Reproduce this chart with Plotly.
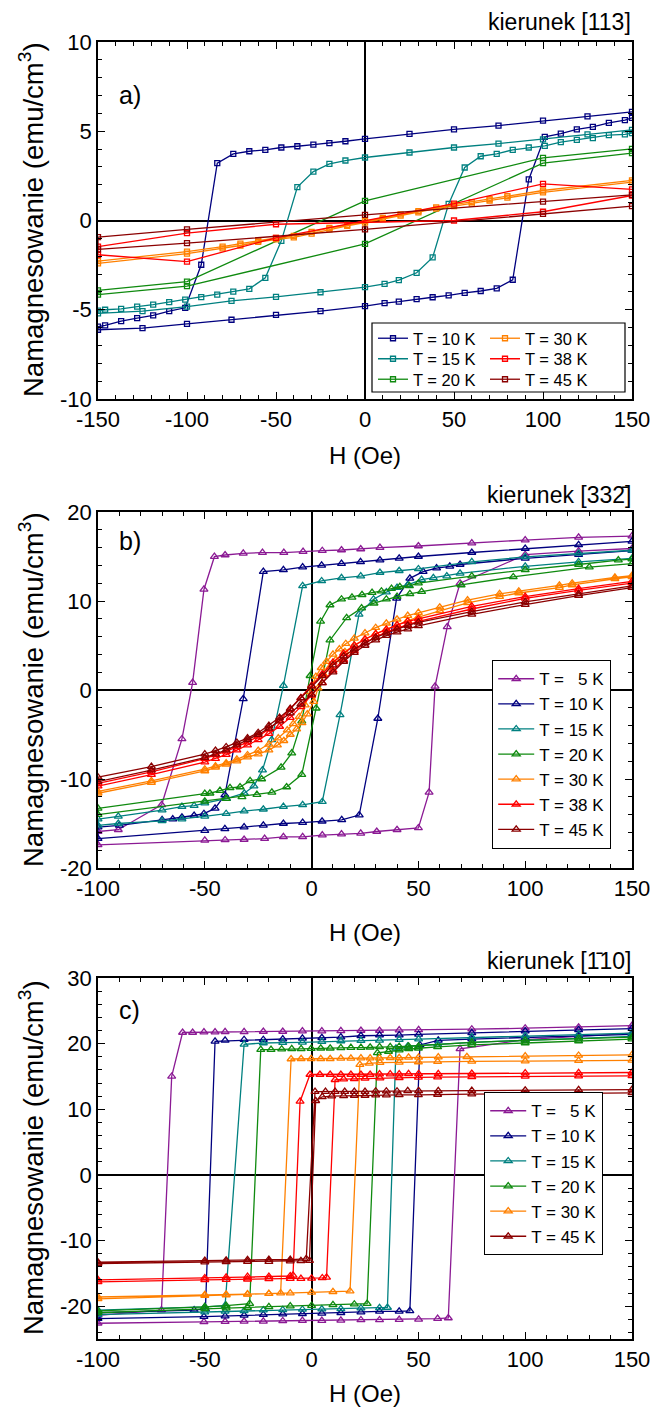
import plotly.graph_objects as go

W, H = 659, 1411

# ---------------- Panel a) data (kierunek [113]) ----------------
a10_Hd = [150,125,100,75,50,25,0,-11,-20,-29,-38,-47,-56,-65,-74,-83,-92,-101,-110,-119,-128,-137,-146,-150]
a10_Md = [6.09,5.83,5.6,5.32,5.1,4.85,4.57,4.44,4.33,4.25,4.16,4.09,3.96,3.88,3.73,3.21,-2.48,-4.89,-5.08,-5.32,-5.47,-5.64,-5.88,-5.95]
a10_Hu = [-150,-125,-100,-75,-50,-25,0,11,19,29,38,47,56,65,74,83,92,101,110,119,128,137,146,150]
a10_Mu = [-6.12,-6.03,-5.79,-5.56,-5.29,-5.08,-4.8,-4.63,-4.55,-4.4,-4.3,-4.2,-4.05,-3.95,-3.8,-3.32,2.3,4.69,4.87,5.1,5.25,5.47,5.62,5.75]

a15_Hd = [150,125,100,75,50,25,0,-11,-20,-29,-38,-47,-56,-65,-74,-83,-92,-101,-110,-119,-128,-137,-146,-150]
a15_Md = [5.08,4.82,4.55,4.31,4.09,3.81,3.53,3.36,3.17,2.74,1.87,-1.14,-3.21,-3.83,-3.98,-4.15,-4.29,-4.43,-4.57,-4.71,-4.82,-4.95,-5.0,-5.05]
a15_Hu = [-150,-125,-100,-75,-50,-25,0,11,19,29,38,47,56,65,74,83,92,101,110,119,128,137,146,150]
a15_Mu = [-5.2,-5.08,-4.82,-4.5,-4.28,-4.02,-3.73,-3.55,-3.34,-2.93,-2.07,0.93,2.97,3.6,3.73,3.96,4.09,4.18,4.39,4.52,4.61,4.78,4.83,4.9]

a20_Hd = [150,100,0,-100,-150]
a20_Md = [4.01,3.51,1.1,-3.42,-3.92]
a20_Hu = [-150,-100,0,100,150]
a20_Mu = [-4.15,-3.68,-1.31,3.21,3.77]

a30_Hd = [150,100,80,70,60,50,40,30,20,10,0,-10,-20,-30,-40,-50,-60,-70,-80,-100,-150]
a30_Md = [2.25,1.68,1.36,1.2,1.03,0.88,0.74,0.52,0.34,0.15,-0.04,-0.24,-0.42,-0.64,-0.86,-0.98,-1.12,-1.3,-1.46,-1.74,-2.28]
a30_Hu = [-150,-100,-80,-70,-60,-50,-40,-30,-20,-10,0,10,20,30,40,50,60,70,80,100,150]
a30_Mu = [-2.4,-1.86,-1.56,-1.4,-1.2,-1.06,-0.94,-0.74,-0.5,-0.3,-0.12,0.08,0.27,0.45,0.66,0.8,0.95,1.12,1.28,1.58,2.15]

a38_Hd = [150,100,50,-50,-100,-150]
a38_Md = [1.74,2.05,0.95,-0.97,-2.3,-1.92]
a38_Hu = [-150,-100,-50,50,100,150]
a38_Mu = [-1.46,-0.71,-0.21,0.0,0.49,1.4]

a45_Hd = [150,100,0,-100,-150]
a45_Md = [1.44,1.06,0.32,-0.5,-0.93]
a45_Hu = [-150,-100,0,100,150]
a45_Mu = [-1.62,-1.27,-0.5,0.37,0.8]

# ---------------- Panel b) data (kierunek [33-2]) ----------------
b5_Hd = [150,125,100,75,50,32,23,14,5,-4,-13,-23,-32,-40.5,-45.5,-50.4,-55.7,-60.7,-70.2,-90.5,-100]
b5_Md = [17.3,17.15,16.85,16.5,16.18,15.99,15.84,15.73,15.65,15.54,15.43,15.43,15.36,15.17,14.98,11.3,0.83,-5.5,-12.9,-15.7,-15.9]
b5_Hu = [-100,-50,-40.5,-31.6,-22,-13.2,-4.2,5,14,23,30.5,40,50,55,57.8,63.5,69.5,100,125,150]
b5_Mu = [-17.4,-16.9,-16.85,-16.8,-16.7,-16.5,-16.5,-16.3,-16.2,-16.1,-15.9,-15.7,-15.5,-11.5,0.4,7.1,12.0,15.2,15.6,15.9]

b10_Hd = [150,125,100,75,50,41,32,22.9,14,4.7,-4.2,-13.2,-22.6,-32,-40.6,-45.2,-50.4,-55,-60.7,-65,-70,-90,-100]
b10_Md = [16.7,16.3,15.9,15.45,15.0,14.8,14.6,14.4,14.2,14.0,13.8,13.5,13.3,-1.0,-11.8,-13.3,-13.9,-14.1,-14.3,-14.5,-14.6,-15.2,-15.4]
b10_Hu = [-100,-50,-40.6,-31.6,-22.6,-13.2,-4.2,4.9,14.1,22.3,31,39.8,46,52.2,58.5,64.7,69.5,100,125,150]
b10_Mu = [-16.7,-15.8,-15.6,-15.4,-15.2,-15.0,-14.9,-14.75,-14.6,-14.05,-3.2,10.3,12.55,13.3,13.7,13.9,14.1,14.8,15.2,15.65]

b15_Hd = [150,125,100,75,50,41,32,23,14,4.7,-4.2,-13.2,-18.7,-23,-27,-31.5,-39.8,-50,-55,-60.7,-70,-90.5,-100]
b15_Md = [15.7,15.35,14.95,14.4,13.6,13.4,13.2,12.8,12.6,12.25,11.7,0.5,-5.6,-9.0,-10.8,-11.6,-12.2,-12.7,-13.0,-13.1,-13.5,-14.2,-14.5]
b15_Hu = [-100,-90.5,-70,-60.7,-50,-40,-31.6,-22.6,-13.2,-4.2,5,13.3,22.2,29,35,40,45,51.5,57,63.3,69.5,100,125,150]
b15_Mu = [-15.2,-15.0,-14.7,-14.5,-14.2,-13.9,-13.6,-13.4,-13.1,-12.9,-12.55,-2.8,8.5,10.2,11.0,11.5,11.8,12.4,12.6,12.8,13.1,13.9,14.4,14.8]

b20_Hd = [150,143.6,125,100,75,50,45.8,41.3,37.4,32.7,28.3,23.6,18.9,14,8.6,4.2,-0.7,-4.6,-9.3,-14.3,-23.4,-28.8,-33.5,-38.2,-42.9,-47.6,-50,-100]
b20_Md = [14.7,14.6,14.1,13.5,12.8,12.0,11.7,11.6,11.4,11.1,10.95,10.7,10.4,10.2,9.55,7.7,1.6,-3.5,-7.1,-8.7,-10.0,-10.2,-10.9,-11.0,-11.3,-11.6,-11.65,-13.3]
b20_Hu = [-100,-50,-40,-32.6,-25.6,-18.6,-11.7,-4.6,2.1,8.6,16.4,23.4,29.2,35,40,46,51.5,70,94.4,130,150]
b20_Mu = [-14.0,-12.5,-12.2,-12.0,-11.75,-11.5,-10.9,-9.5,-2.05,5.6,8.1,9.2,9.75,10.2,10.5,10.8,11.05,11.8,12.7,13.8,14.2]

b30_Hd = [150,142,122,116,97,88,73,60,50,45,40,35,30,25,20,16,13,10,7,4.5,2,-1,-3,-5.8,-8.6,-11.4,-15.6,-20,-25,-30,-35,-40,-45,-50,-75,-100]
b30_Md = [12.85,12.65,12.0,11.75,11.1,10.8,10.1,9.3,8.7,8.35,7.95,7.5,7.0,6.4,5.8,5.2,4.6,4.0,3.2,2.5,1.5,-0.2,-1.7,-3.0,-3.8,-4.5,-5.4,-6.1,-6.8,-7.3,-7.8,-8.2,-8.55,-8.9,-10.2,-11.4]
b30_Hu = [-100,-75,-50,-45,-40,-35,-30,-25,-20,-16,-13,-10,-7,-4.5,-2,1,3,5.8,8.6,11.4,15.6,20,25,30,35,40,45,50,60,73,88,97,116,122,142,150]
b30_Mu = [-11.6,-10.4,-9.1,-8.7,-8.35,-8.0,-7.55,-7.2,-6.75,-6.2,-5.7,-5.0,-4.4,-3.7,-2.7,-1.3,0.2,1.7,2.6,3.4,4.3,5.05,5.7,6.3,6.8,7.3,7.8,8.2,8.9,9.8,10.5,10.9,11.5,11.8,12.5,12.7]

b38_Hd = [150,125,100,75,50,45,40,35,30,25,20,15,10,5,0,-5,-10,-15,-20,-25,-30,-35,-40,-45,-50,-75,-100]
b38_Md = [12.2,11.4,10.5,9.4,8.0,7.7,7.3,6.8,6.3,5.7,5.0,4.1,3.1,1.8,0.5,-0.9,-2.2,-3.4,-4.4,-5.2,-5.85,-6.4,-6.9,-7.3,-7.7,-9.2,-10.5]
b38_Hu = [-100,-75,-50,-45,-40,-35,-30,-25,-20,-15,-10,-5,0,5,10,15,20,25,30,35,40,45,50,75,100,125,150]
b38_Mu = [-10.8,-9.5,-8.1,-7.7,-7.25,-6.75,-6.2,-5.6,-4.9,-4.1,-3.1,-1.9,-0.6,0.8,2.2,3.4,4.4,5.3,5.95,6.5,6.95,7.35,7.7,9.1,10.3,11.2,12.0]

b45_Hd = [150,125,100,75,50,45,40,35,30,25,20,15,10,5,0,-5,-10,-15,-20,-25,-30,-35,-40,-45,-50,-75,-100]
b45_Md = [11.7,10.8,9.9,8.8,7.6,7.25,6.85,6.4,5.9,5.3,4.6,3.8,2.8,1.6,0.4,-0.9,-2.1,-3.1,-4.0,-4.8,-5.4,-5.9,-6.4,-6.8,-7.2,-8.6,-9.8]
b45_Hu = [-100,-75,-50,-45,-40,-35,-30,-25,-20,-15,-10,-5,0,5,10,15,20,25,30,35,40,45,50,75,100,125,150]
b45_Mu = [-10.3,-9.0,-7.6,-7.2,-6.75,-6.2,-5.6,-5.0,-4.3,-3.5,-2.6,-1.6,-0.5,0.8,2.0,3.2,4.2,5.0,5.6,6.1,6.5,6.85,7.2,8.5,9.6,10.6,11.5]

# ---------------- Panel c) data (kierunek [-110]) ----------------
c5_Hd = [150,125,100,75,50.1,41,31.8,23.1,13.7,4.8,-4.3,-13.5,-22.6,-31.6,-40.5,-45.2,-50.4,-55.7,-60.4,-65.5,-70.3,-100]
c5_Md = [22.75,22.5,22.35,22.2,22.1,22.05,22.0,22.0,21.95,21.9,21.9,21.85,21.85,21.8,21.8,21.75,21.75,21.7,21.7,15.0,-20.6,-21.4]
c5_Hu = [-100,-50.4,-40.5,-31.6,-22.6,-13.5,-4.3,4.8,13.7,23.1,31.8,41,50.1,59,64,69.5,100,125,150]
c5_Mu = [-22.6,-22.4,-22.35,-22.3,-22.3,-22.25,-22.2,-22.2,-22.15,-22.1,-22.1,-22.05,-22.0,-21.9,-21.8,19.2,20.6,21.1,21.6]

c10_Hd = [150,125,100,75,50.1,41,31.8,23.1,13.7,4.8,-4.3,-13.5,-22.6,-31.6,-40.5,-45.2,-49.7,-55,-100]
c10_Md = [22.3,22.1,21.9,21.65,21.4,21.3,21.3,21.2,21.0,20.9,20.8,20.7,20.6,20.6,20.5,20.35,-20.4,-20.6,-21.0]
c10_Hu = [-100,-50.4,-40.5,-31.6,-22.6,-13.5,-4.3,4.8,13.7,23.1,31.8,41,46,50.7,59.3,75,100,125,150]
c10_Mu = [-21.9,-21.6,-21.5,-21.4,-21.3,-21.2,-21.15,-21.1,-21.0,-20.9,-20.8,-20.8,-20.7,19.8,20.5,20.7,20.9,21.1,21.4]

c15_Hd = [150,125,100,75,50.1,41,31.8,23.1,13.7,4.8,-4.3,-13.5,-22.6,-31.6,-40.5,-50,-100]
c15_Md = [21.6,21.4,21.2,21.0,20.7,20.6,20.5,20.45,20.4,20.3,20.2,20.15,20.1,19.9,-19.9,-20.1,-20.6]
c15_Hu = [-100,-50,-40.5,-31.6,-22.6,-13.5,-4.3,4.8,13.7,23.1,31.8,35.5,39.5,45,59,75,100,125,150]
c15_Mu = [-21.3,-20.9,-20.8,-20.7,-20.6,-20.55,-20.5,-20.45,-20.4,-20.3,-20.25,-20.2,19.3,19.6,19.9,20.2,20.5,20.8,21.1]

c20_Hd = [150,125,100,75,50.1,45.4,41,36.8,31.8,27.4,23.1,18.4,13.7,8.7,4.3,-0.2,-4.9,-9.3,-14,-19,-23.8,-29,-40,-50,-100]
c20_Md = [21.0,20.8,20.5,20.2,19.6,19.6,19.55,19.5,19.5,19.45,19.4,19.4,19.35,19.3,19.3,19.25,19.2,19.2,19.15,19.1,19.1,-19.6,-19.9,-20.1,-20.7]
c20_Hu = [-100,-50,-40,-30,-20,-10,0,10,20,26,30.8,36,41,45.5,50,59,75,100,125,150]
c20_Mu = [-21.0,-20.4,-20.3,-20.2,-20.1,-20.0,-19.9,-19.8,-19.7,-19.6,18.6,18.8,19.0,19.2,19.3,19.5,19.8,20.1,20.4,20.7]

c30_Hd = [150,125,100,72.7,59.3,50.1,45.4,41,36.8,31.8,27.4,23.1,18.4,13.7,8.7,4.3,-0.2,-4.9,-9.6,-14.5,-20,-30,-40,-50,-100]
c30_Md = [18.3,18.2,18.1,18.0,17.95,17.9,17.9,17.85,17.85,17.8,17.8,17.8,17.75,17.75,17.7,17.7,17.7,17.7,17.66,-18.0,-18.1,-18.15,-18.2,-18.25,-18.6]
c30_Hu = [-100,-50,-40,-30,-20,-10,0,10,18,22.6,27,32,41,50,59,75,100,125,150]
c30_Mu = [-18.9,-18.4,-18.3,-18.2,-18.1,-18.0,-17.9,-17.8,-17.7,16.8,17.0,17.1,17.15,17.2,17.25,17.3,17.35,17.4,17.45]

c38_Hd = [150,125,100,75,59.3,50.1,45.4,41,36.8,31.8,27.4,23.1,18.4,13.7,8.7,3.9,-0.75,-5.4,-8.7,-10,-20,-30,-40,-50,-100]
c38_Md = [15.6,15.55,15.5,15.45,15.4,15.4,15.4,15.35,15.35,15.35,15.3,15.3,15.3,15.3,15.3,15.3,15.3,11.2,-15.3,-15.4,-15.5,-15.5,-15.6,-15.7,-16.0]
c38_Hu = [-100,-50,-40,-30,-20,-10,-5,0,5,7,11,15,20,25,32,41,50,59,75,100,125,150]
c38_Mu = [-16.3,-16.0,-15.95,-15.9,-15.85,-15.8,-15.8,-15.75,-15.7,-15.6,14.5,14.6,14.65,14.7,14.75,14.8,14.85,14.9,14.95,15.0,15.05,15.1]

c45_Hd = [150,125,100,75,59.3,50.1,45,40,35,30,25,20,15.5,11,6.5,1.6,-2.5,-10,-20,-30,-40,-50,-100]
c45_Md = [13.0,12.95,12.9,12.85,12.8,12.8,12.8,12.75,12.75,12.75,12.7,12.7,12.7,12.7,12.7,12.7,-12.8,-12.9,-12.9,-12.95,-13.0,-13.05,-13.3]
c45_Hu = [-100,-50,-40,-30,-20,-10,-5,-1,1.9,5,9.4,15,20,25,30,35,41,50,59,75,100,125,150]
c45_Mu = [-13.5,-13.3,-13.25,-13.2,-13.2,-13.15,-13.1,-13.05,11.3,11.9,12.0,12.05,12.1,12.1,12.15,12.15,12.2,12.2,12.25,12.3,12.35,12.4,12.5]

# tick labels
xa_ticks = [-150, -100, -50, 0, 50, 100, 150]
xb_ticks = [-100, -50, 0, 50, 100, 150]
ya_ticks = [-10, -5, 0, 5, 10]
yb_ticks = [-20, -10, 0, 10, 20]
yc_ticks = [-20, -10, 0, 10, 20, 30]

COLORS = {5: "#8B1A94", 10: "#00007F", 15: "#008080", 20: "#0F8A0F",
          30: "#FF8000", 38: "#FF0000", 45: "#8B0000"}

FONT = "Liberation Sans, Arial, sans-serif"

def px_x(x):
    return x / W

def px_y(y):
    return 1 - y / H

fig = go.Figure()

def label(T):
    if T < 10:
        return "T =\u00a0\u00a0\u00a0" + str(T) + " K"
    return "T = " + str(T) + " K"

def add_loop(Hd, Md, Hu, Mu, T, ax, symbol, msize, legend, showlegend, rank):
    fig.add_trace(go.Scatter(
        x=Hd + Hu, y=Md + Mu, mode="lines+markers",
        name=label(T), legend=legend, showlegend=showlegend, legendrank=rank,
        line=dict(color=COLORS[T], width=1.3),
        marker=dict(symbol=symbol, size=msize, color=COLORS[T],
                    line=dict(color=COLORS[T], width=1.3)),
        xaxis="x" + ax, yaxis="y" + ax))

sq = "square-open"
# panel a legend: three rows (legend, legend5, legend6), two columns each
add_loop(a10_Hd, a10_Md, a10_Hu, a10_Mu, 10, "", sq, 5, "legend", True, 1)
add_loop(a15_Hd, a15_Md, a15_Hu, a15_Mu, 15, "", sq, 5, "legend5", True, 1)
add_loop(a20_Hd, a20_Md, a20_Hu, a20_Mu, 20, "", sq, 5, "legend6", True, 1)
add_loop(a30_Hd, a30_Md, a30_Hu, a30_Mu, 30, "", sq, 5, "legend", True, 2)
add_loop(a38_Hd, a38_Md, a38_Hu, a38_Mu, 38, "", sq, 5, "legend5", True, 2)
add_loop(a45_Hd, a45_Md, a45_Hu, a45_Mu, 45, "", sq, 5, "legend6", True, 2)

tri = "triangle-up-open"
add_loop(b5_Hd, b5_Md, b5_Hu, b5_Mu, 5, "2", tri, 7, "legend2", True, 1)
add_loop(b10_Hd, b10_Md, b10_Hu, b10_Mu, 10, "2", tri, 7, "legend2", True, 2)
add_loop(b15_Hd, b15_Md, b15_Hu, b15_Mu, 15, "2", tri, 7, "legend2", True, 3)
add_loop(b20_Hd, b20_Md, b20_Hu, b20_Mu, 20, "2", tri, 7, "legend2", True, 4)
add_loop(b30_Hd, b30_Md, b30_Hu, b30_Mu, 30, "2", tri, 7, "legend2", True, 5)
add_loop(b38_Hd, b38_Md, b38_Hu, b38_Mu, 38, "2", tri, 7, "legend2", True, 6)
add_loop(b45_Hd, b45_Md, b45_Hu, b45_Mu, 45, "2", tri, 7, "legend2", True, 7)

add_loop(c5_Hd, c5_Md, c5_Hu, c5_Mu, 5, "3", tri, 7, "legend3", True, 1)
add_loop(c10_Hd, c10_Md, c10_Hu, c10_Mu, 10, "3", tri, 7, "legend3", True, 2)
add_loop(c15_Hd, c15_Md, c15_Hu, c15_Mu, 15, "3", tri, 7, "legend3", True, 3)
add_loop(c20_Hd, c20_Md, c20_Hu, c20_Mu, 20, "3", tri, 7, "legend3", True, 4)
add_loop(c30_Hd, c30_Md, c30_Hu, c30_Mu, 30, "3", tri, 7, "legend3", True, 5)
add_loop(c38_Hd, c38_Md, c38_Hu, c38_Mu, 38, "3", tri, 7, "legend3", False, 6)
add_loop(c45_Hd, c45_Md, c45_Hu, c45_Mu, 45, "3", tri, 7, "legend3", True, 7)

def ticktext(vals):
    return [str(v) for v in vals]

def axis_style(rng, tvals, mdtick, domain, anchor):
    return dict(range=rng, tickmode="array", tickvals=tvals, ticktext=ticktext(tvals),
                domain=domain, anchor=anchor, automargin=False,
                showline=True, linecolor="black", linewidth=1.5, mirror="allticks",
                ticks="inside", ticklen=7, tickwidth=1.2, tickcolor="black",
                showgrid=False, zeroline=True, zerolinecolor="black", zerolinewidth=1.5,
                tickfont=dict(family=FONT, size=22, color="black"),
                minor=dict(ticks="inside", ticklen=4, tickwidth=1, tickcolor="black",
                           dtick=mdtick, tick0=0, showgrid=False),
                fixedrange=True)

xdom = [px_x(98), px_x(632)]
dom_a = [px_y(399), px_y(42)]
dom_b = [px_y(868), px_y(512)]
dom_c = [px_y(1339), px_y(978)]

def legend_style(x, y, border, orientation="v", yanchor="top", entrywidth=None,
                 size=16.5, itemwidth=30):
    d = dict(x=px_x(x), y=px_y(y), xref="container", yref="container",
             xanchor="left", yanchor=yanchor, orientation=orientation,
             bgcolor="white" if border else "rgba(0,0,0,0)",
             bordercolor="black", borderwidth=1.2 if border else 0,
             font=dict(family=FONT, size=size, color="black"),
             tracegroupgap=0, itemwidth=itemwidth)
    if entrywidth is not None:
        d["entrywidth"] = entrywidth
        d["entrywidthmode"] = "pixels"
    return d

fig.update_layout(
    width=W, height=H, margin=dict(l=0, r=0, t=0, b=0, pad=0, autoexpand=False),
    paper_bgcolor="white", plot_bgcolor="white",
    font=dict(family=FONT, color="black"),
    xaxis=axis_style([-150, 150], xa_ticks, 10, xdom, "y"),
    yaxis=axis_style([-10, 10], ya_ticks, 1, dom_a, "x"),
    xaxis2=axis_style([-100, 150], xb_ticks, 10, xdom, "y2"),
    yaxis2=axis_style([-20, 20], yb_ticks, 2, dom_b, "x2"),
    xaxis3=axis_style([-100, 150], xb_ticks, 10, xdom, "y3"),
    yaxis3=axis_style([-25, 30], yc_ticks, 2, dom_c, "x3"),
    legend=legend_style(373, 338.5, False, "h", "middle", 67),
    legend5=legend_style(373, 359, False, "h", "middle", 67),
    legend6=legend_style(373, 379.5, False, "h", "middle", 67),
    legend2=legend_style(492, 660, True, size=17, itemwidth=36),
    legend3=legend_style(484, 1092, True, size=17, itemwidth=36),
    showlegend=True,
    shapes=[dict(type="rect", xref="paper", yref="paper", layer="above",
                 x0=px_x(372), x1=px_x(625), y0=px_y(392), y1=px_y(323),
                 line=dict(color="black", width=1.2), fillcolor="white")],
)

ann = []
def text(x, y, s, size, xanchor="center", yanchor="middle", angle=0):
    ann.append(dict(x=px_x(x), y=px_y(y), xref="paper", yref="paper", text=s,
                    showarrow=False, xanchor=xanchor, yanchor=yanchor, textangle=angle,
                    font=dict(family=FONT, size=size, color="black")))

text(633, 22, "kierunek [113]", 23, xanchor="right")
text(633, 495, "kierunek [332\u0304]", 23, xanchor="right")
text(633, 961, "kierunek [1\u030410]", 23, xanchor="right")
text(117, 95, "a)", 25, xanchor="left")
text(117, 541, "b)", 25, xanchor="left")
text(117, 1010, "c)", 25, xanchor="left")
ytitle = "Namagnesowanie (emu/cm<sup>3</sup>)"
text(31, 220, ytitle, 27.5, angle=-90)
text(31, 690, ytitle, 27.5, angle=-90)
text(31, 1158, ytitle, 27.5, angle=-90)
text(365, 455, "H (Oe)", 24)
text(365, 932, "H (Oe)", 24)
text(365, 1393, "H (Oe)", 24)

fig.update_layout(annotations=ann)

fig.write_html("out.html")
